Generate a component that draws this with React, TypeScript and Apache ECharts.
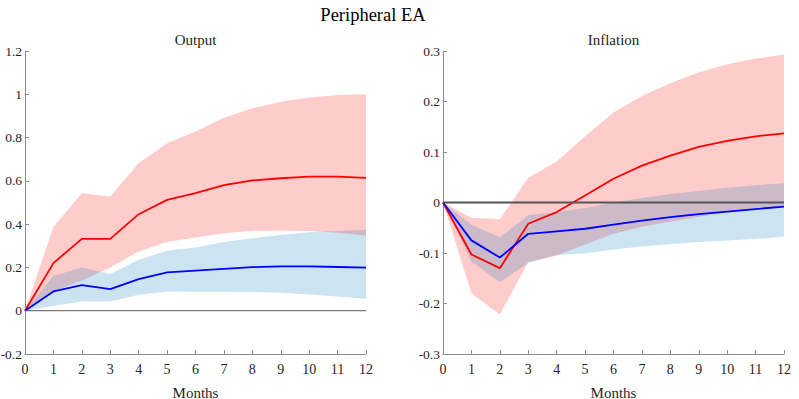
import React, { useEffect, useRef } from "react";
import * as echarts from "echarts";

const months = [0, 1, 2, 3, 4, 5, 6, 7, 8, 9, 10, 11, 12];

// Output panel
const outRed = [0, 0.22, 0.332, 0.332, 0.446, 0.512, 0.543, 0.58, 0.602, 0.612, 0.62, 0.62, 0.614];
const outRedUp = [0, 0.387, 0.543, 0.528, 0.682, 0.774, 0.828, 0.892, 0.935, 0.966, 0.985, 0.997, 1.0];
const outRedLo = [0, 0.09, 0.14, 0.2, 0.274, 0.317, 0.338, 0.358, 0.369, 0.37, 0.368, 0.36, 0.348];
const outBlue = [0, 0.089, 0.118, 0.1, 0.146, 0.177, 0.185, 0.193, 0.201, 0.205, 0.205, 0.202, 0.199];
const outBlueUp = [0, 0.16, 0.2, 0.17, 0.235, 0.277, 0.292, 0.317, 0.335, 0.35, 0.363, 0.368, 0.374];
const outBlueLo = [0, 0.023, 0.043, 0.043, 0.074, 0.089, 0.088, 0.088, 0.087, 0.083, 0.075, 0.066, 0.055];

// Inflation panel
const infRed = [0, -0.103, -0.13, -0.042, -0.019, 0.014, 0.047, 0.073, 0.093, 0.11, 0.122, 0.131, 0.137];
const infRedUp = [0, -0.03, -0.033, 0.049, 0.081, 0.131, 0.178, 0.211, 0.236, 0.258, 0.274, 0.285, 0.293];
const infRedLo = [0, -0.18, -0.222, -0.118, -0.105, -0.083, -0.062, -0.048, -0.038, -0.028, -0.02, -0.013, -0.008];
const infBlue = [0, -0.075, -0.109, -0.062, -0.057, -0.052, -0.044, -0.036, -0.029, -0.023, -0.018, -0.013, -0.008];
const infBlueUp = [0, -0.044, -0.069, -0.025, -0.019, -0.011, 0.0, 0.009, 0.017, 0.023, 0.029, 0.034, 0.038];
const infBlueLo = [0, -0.117, -0.158, -0.12, -0.104, -0.101, -0.093, -0.087, -0.082, -0.078, -0.075, -0.072, -0.068];

const FONT = "Liberation Serif";
const PINK = "rgba(255,0,0,0.2)";
const LBLUE = "rgba(0,114,189,0.2)";

function band(idx: number, lo: number[], hi: number[], fill: string) {
  return {
    type: "custom",
    xAxisIndex: idx,
    yAxisIndex: idx,
    silent: true,
    data: months.map((m, i) => [m, lo[i], hi[i]]),
    renderItem: (params: any, api: any) => {
      if (params.dataIndex !== 0) return null;
      const pts: number[][] = [];
      months.forEach((m, i) => pts.push(api.coord([m, hi[i]])));
      for (let i = months.length - 1; i >= 0; i--) pts.push(api.coord([months[i], lo[i]]));
      return { type: "polygon", shape: { points: pts }, style: { fill, stroke: null } };
    },
  };
}

function line(idx: number, vals: number[], color: string) {
  return {
    type: "line",
    xAxisIndex: idx,
    yAxisIndex: idx,
    data: months.map((m, i) => [m, vals[i]]),
    symbol: "none",
    lineStyle: { color, width: 1.8 },
    silent: true,
  };
}

function zero(idx: number, color: string, width: number) {
  return {
    type: "line",
    xAxisIndex: idx,
    yAxisIndex: idx,
    data: [[0, 0], [12, 0]],
    symbol: "none",
    lineStyle: { color, width },
    silent: true,
    z: 5,
  };
}

function xAxis(idx: number) {
  return {
    type: "value",
    gridIndex: idx,
    min: 0,
    max: 12,
    interval: 1,
    name: "Months",
    nameLocation: "middle",
    nameGap: 31,
    nameTextStyle: { fontFamily: FONT, fontSize: 15, color: "#262626" },
    axisLine: { show: true, onZero: false, lineStyle: { color: "#8c8c8c", width: 1 } },
    axisTick: { show: true, inside: true, length: 4, lineStyle: { color: "#8c8c8c" } },
    axisLabel: { fontFamily: FONT, fontSize: 14, color: "#262626", margin: 8 },
    splitLine: { show: false },
  };
}

function yAxis(idx: number, min: number, max: number, interval: number) {
  return {
    type: "value",
    gridIndex: idx,
    min,
    max,
    interval,
    axisLine: { show: true, onZero: false, lineStyle: { color: "#8c8c8c", width: 1 } },
    axisTick: { show: true, inside: true, length: 4, lineStyle: { color: "#8c8c8c" } },
    axisLabel: {
      fontFamily: FONT,
      fontSize: 13.5,
      color: "#262626",
      margin: 3,
      formatter: (v: number) => String(parseFloat(v.toFixed(2))),
    },
    splitLine: { show: false },
  };
}

export default function App() {
  const ref = useRef<HTMLDivElement>(null);
  useEffect(() => {
    if (!ref.current) return;
    const chart = echarts.init(ref.current, null, { renderer: "svg" });
    chart.setOption({
      animation: false,
      backgroundColor: "#ffffff",
      textStyle: { fontFamily: FONT },
      graphic: [
        {
          type: "text",
          x: 373,
          y: 15,
          style: { text: "Peripheral EA", fontFamily: FONT, fontSize: 18.5, fill: "#000", textAlign: "center", textVerticalAlign: "middle" },
        },
        {
          type: "text",
          x: 195.5,
          y: 40,
          style: { text: "Output", fontFamily: FONT, fontSize: 15, fill: "#262626", textAlign: "center", textVerticalAlign: "middle" },
        },
        {
          type: "text",
          x: 613.5,
          y: 40,
          style: { text: "Inflation", fontFamily: FONT, fontSize: 15, fill: "#262626", textAlign: "center", textVerticalAlign: "middle" },
        },
      ],
      grid: [
        { left: 25, right: 433, top: 51, bottom: 45, containLabel: false, outerBoundsMode: "none" },
        { left: 443, right: 15, top: 51, bottom: 45, containLabel: false, outerBoundsMode: "none" },
      ],
      xAxis: [xAxis(0), xAxis(1)],
      yAxis: [yAxis(0, -0.2, 1.2, 0.2), yAxis(1, -0.3, 0.3, 0.1)],
      series: [
        band(0, outRedLo, outRedUp, PINK),
        line(0, outRed, "#ff0000"),
        band(0, outBlueLo, outBlueUp, LBLUE),
        line(0, outBlue, "#0000ff"),
        zero(0, "#5a5a5a", 1),
        band(1, infRedLo, infRedUp, PINK),
        line(1, infRed, "#ff0000"),
        band(1, infBlueLo, infBlueUp, LBLUE),
        line(1, infBlue, "#0000ff"),
        zero(1, "#555555", 2),
      ],
    });
    return () => chart.dispose();
  }, []);
  return <div ref={ref} style={{ position: "fixed", left: 0, top: 0, width: 799, height: 399 }} />;
}
